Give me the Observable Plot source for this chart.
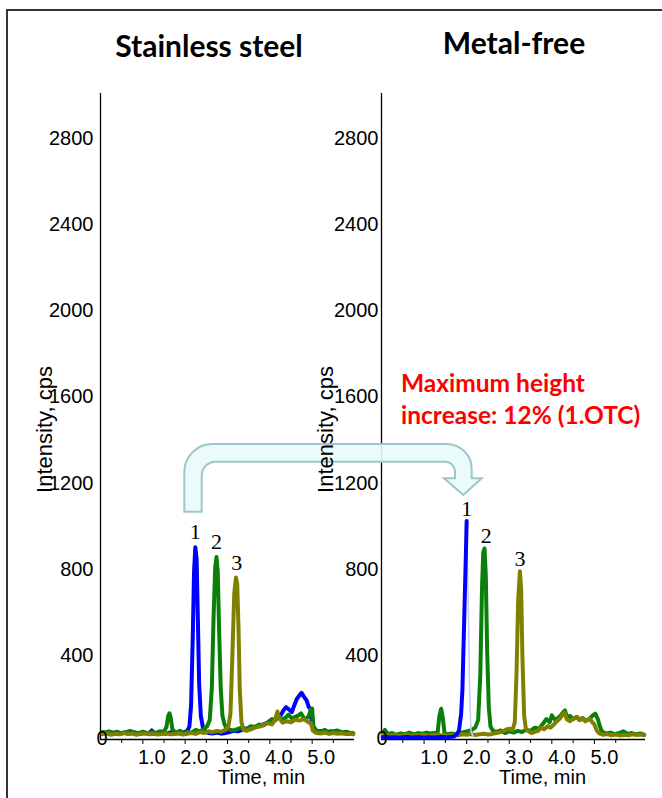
<!DOCTYPE html>
<html><head><meta charset="utf-8">
<script src="https://cdn.jsdelivr.net/npm/d3@7"></script>
<script src="https://cdn.jsdelivr.net/npm/@observablehq/plot@0.6"></script>
<style>
html,body{margin:0;padding:0;background:#fff;overflow:hidden;}
#wrap{position:relative;width:662px;height:798px;overflow:hidden;background:#fff;}
#frame{position:absolute;left:6px;top:9px;width:720px;height:900px;border:2px solid #333;box-sizing:border-box;}
.panel{position:absolute;left:0;top:0;}
.title{position:absolute;font-family:Lato,"Open Sans",sans-serif;font-weight:700;font-size:30px;line-height:30px;color:#000;white-space:nowrap;transform:translateX(-50%);}
#note{position:absolute;left:401px;top:367px;color:#ff0000;font-family:Lato,"Open Sans",sans-serif;font-weight:700;font-size:24.5px;line-height:31.6px;white-space:nowrap;}
</style>
</head><body>
<div id="wrap">
  <div id="frame"></div>
  <div id="left" class="panel"></div>
  <div id="right" class="panel"></div>
  <div id="t1" class="title" style="left:209px;top:30px"></div>
  <div id="t2" class="title" style="left:514px;top:27px"></div>
  <div id="note"></div>
</div>
<script>
// ---- texts ----
const panelTitles = ["Stainless steel", "Metal-free"];
const noteLines = ["Maximum height", "increase: 12% (1.OTC)"];
const yLabel = "Intensity, cps";
const xLabel = "Time, min";

// ---- ticks ----
const yTicks = [400, 800, 1200, 1600, 2000, 2400, 2800];
const xTicks = [1, 2, 3, 4, 5];
const xMinorTicks = [0.5, 1.5, 2.5, 3.5, 4.5, 5.5];

// ---- Stainless steel traces [time (min), intensity (cps)] ----
const leftBlue = [
 [0.05,30],[0.15,34],[0.25,28],[0.35,31],[0.45,26],[0.55,33],[0.65,29],[0.75,35],[0.85,30],[0.95,27],
 [1.05,32],[1.15,28],[1.21,42],[1.27,30],[1.35,29],[1.45,31],[1.55,27],[1.65,33],[1.75,30],[1.85,36],
 [1.95,32],[2.05,40],[2.10,60],[2.14,160],[2.18,480],[2.21,780],[2.24,893],[2.27,840],[2.30,560],[2.33,260],
 [2.37,110],[2.42,55],[2.48,38],[2.55,30],[2.65,28],[2.75,32],[2.85,27],[2.95,30],[3.05,35],[3.15,40],
 [3.25,38],[3.35,45],[3.45,50],[3.55,48],[3.65,58],[3.75,62],[3.85,70],[3.95,78],[4.05,85],[4.15,95],
 [4.25,110],[4.32,135],[4.38,150],[4.45,140],[4.52,127],[4.58,160],[4.64,189],[4.70,205],[4.75,217],[4.80,200],
 [4.87,181],[4.92,150],[4.96,144],[5.00,60],[5.05,42],[5.15,38],[5.25,40],[5.35,35],[5.45,38],[5.55,33],
 [5.65,36],[5.75,30],[5.85,32],[5.97,28]
];
const leftGreen = [
 [0.05,35],[0.12,30],[0.20,38],[0.30,32],[0.40,36],[0.50,28],[0.60,34],[0.70,40],[0.80,33],[0.90,30],
 [1.00,36],[1.10,29],[1.20,34],[1.30,31],[1.40,38],[1.50,35],[1.56,60],[1.60,110],[1.63,122],[1.66,100],
 [1.70,45],[1.78,32],[1.88,40],[1.95,30],[2.05,35],[2.15,32],[2.25,45],[2.35,38],[2.45,50],[2.52,62],
 [2.58,90],[2.63,240],[2.67,560],[2.71,800],[2.74,848],[2.77,780],[2.80,520],[2.84,240],[2.88,110],[2.93,70],
 [2.98,52],[3.05,45],[3.15,42],[3.25,50],[3.35,55],[3.45,48],[3.55,62],[3.65,58],[3.75,70],[3.85,65],
 [3.95,80],[4.05,95],[4.12,88],[4.20,110],[4.28,92],[4.36,100],[4.44,115],[4.52,98],[4.60,105],[4.68,112],
 [4.74,121],[4.80,100],[4.86,95],[4.92,110],[4.97,140],[5.00,143],[5.03,60],[5.10,42],[5.20,35],[5.30,45],
 [5.40,30],[5.50,38],[5.60,42],[5.70,33],[5.80,36],[5.90,30],[5.97,28]
];
const leftOlive = [
 [0.05,25],[0.15,28],[0.25,22],[0.35,26],[0.45,24],[0.55,30],[0.65,25],[0.75,27],[0.85,22],[0.95,26],
 [1.05,28],[1.15,24],[1.25,27],[1.35,23],[1.45,25],[1.55,29],[1.65,24],[1.75,26],[1.85,28],[1.95,23],
 [2.05,27],[2.15,30],[2.25,26],[2.35,35],[2.45,30],[2.55,38],[2.65,34],[2.75,40],[2.85,36],[2.95,45],
 [3.02,60],[3.07,120],[3.12,420],[3.16,680],[3.20,752],[3.23,720],[3.26,520],[3.29,230],[3.33,80],[3.38,45],
 [3.45,40],[3.55,48],[3.65,55],[3.75,60],[3.85,68],[3.95,75],[4.05,70],[4.12,90],[4.18,130],[4.22,100],
 [4.30,78],[4.40,85],[4.50,80],[4.60,92],[4.70,88],[4.80,95],[4.90,82],[4.97,75],[5.02,40],[5.10,30],
 [5.20,28],[5.30,32],[5.40,26],[5.50,30],[5.60,27],[5.70,29],[5.80,25],[5.90,27],[5.97,24]
];

// ---- Metal-free traces ----
const rightBlue = [
 [0.03,10],[0.10,12],[0.20,9],[0.30,11],[0.40,8],[0.50,10],[0.60,12],[0.70,9],[0.80,11],[0.90,10],
 [1.00,8],[1.10,11],[1.20,9],[1.30,10],[1.40,12],[1.50,10],[1.60,11],[1.70,14],[1.76,22],[1.82,42],
 [1.87,120],[1.90,228],[1.94,540],[1.98,848],[2.00,1015]
];
const rightBlueTail = [[2.00,1015],[2.04,600],[2.07,228],[2.10,40],[2.15,15]];
const rightGreen = [
 [0.03,30],[0.08,45],[0.15,25],[0.25,30],[0.35,22],[0.45,28],[0.55,25],[0.65,32],[0.75,24],[0.85,30],
 [0.95,26],[1.05,32],[1.15,28],[1.25,30],[1.32,35],[1.36,110],[1.40,143],[1.44,100],[1.48,30],[1.55,25],
 [1.65,28],[1.75,24],[1.85,30],[1.95,35],[2.05,40],[2.12,45],[2.20,55],[2.27,90],[2.32,300],[2.36,700],
 [2.39,870],[2.42,887],[2.45,760],[2.48,420],[2.52,150],[2.56,60],[2.62,40],[2.70,35],[2.80,42],[2.90,30],
 [3.00,38],[3.10,32],[3.20,40],[3.30,35],[3.40,45],[3.50,40],[3.60,55],[3.70,50],[3.80,75],[3.87,95],
 [3.95,80],[4.00,112],[4.08,90],[4.15,100],[4.22,115],[4.28,130],[4.31,135],[4.36,100],[4.42,110],[4.50,95],
 [4.58,105],[4.65,90],[4.72,100],[4.80,88],[4.88,95],[4.95,110],[5.02,120],[5.08,95],[5.13,60],[5.18,35],
 [5.28,28],[5.38,32],[5.48,25],[5.58,30],[5.68,38],[5.78,26],[5.88,30],[5.98,24],[6.08,28],[6.17,22]
];
const rightOlive = [
 [0.03,20],[0.10,22],[0.20,18],[0.30,21],[0.40,17],[0.50,20],[0.60,23],[0.70,18],[0.80,21],[0.90,19],
 [1.00,22],[1.10,18],[1.20,20],[1.30,23],[1.40,19],[1.50,21],[1.60,18],[1.70,22],[1.80,20],[1.90,24],
 [2.00,22],[2.10,25],[2.20,21],[2.30,24],[2.40,27],[2.50,23],[2.60,26],[2.70,30],[2.80,35],[2.88,42],
 [2.95,48],[3.02,50],[3.08,45],[3.13,80],[3.17,300],[3.21,650],[3.25,781],[3.28,700],[3.31,380],[3.35,110],
 [3.39,50],[3.45,38],[3.52,30],[3.60,35],[3.68,40],[3.75,55],[3.82,48],[3.90,62],[3.97,55],[4.05,70],
 [4.12,85],[4.20,100],[4.26,118],[4.30,125],[4.35,95],[4.42,85],[4.50,95],[4.56,100],[4.60,104],[4.66,90],
 [4.72,98],[4.78,85],[4.85,92],[4.90,95],[4.95,80],[5.00,70],[5.06,40],[5.12,28],[5.20,22],[5.30,25],
 [5.40,20],[5.50,23],[5.60,19],[5.70,22],[5.80,20],[5.90,24],[6.00,21],[6.10,23],[6.17,20]
];

// ---- peak labels [label, time, intensity] ----
const peaksLeft = [["1",2.24,893],["2",2.74,848],["3",3.22,752]];
const peaksRight = [["1",2.00,1015],["2",2.46,887],["3",3.25,781]];

const BLUE = "#0000ff", GREEN = "#0a800a", OLIVE = "#808000";
const FONT = "'Liberation Sans', Arial, sans-serif";

function line(data, color, w) {
  return Plot.line(data, {x: d => d[0], y: d => d[1], stroke: color, strokeWidth: w, strokeLinejoin: "round", strokeLinecap: "round"});
}

function commonMarks(opts) {
  return [
    Plot.axisX({ticks: xMinorTicks, tickSize: 4, tickFormat: () => "", label: null}),
    Plot.axisX({ticks: xTicks, tickSize: 5, tickFormat: () => "", label: null}),
    Plot.axisX({ticks: xTicks, tickSize: 0, tickPadding: 10, tickFormat: d3.format(".1f"), fontSize: 20, dx: opts.labelDx, label: null}),
    Plot.axisY({ticks: yTicks, tickSize: 0, tickPadding: opts.yPad, tickFormat: d => String(d), fontSize: 20, dy: 2, label: null}),
    Plot.text(["0"], {frameAnchor: "bottom-left", dx: opts.zeroDx, dy: 5, fontSize: 20}),
    Plot.text([yLabel], {frameAnchor: "left", textAnchor: "middle", rotate: -90, dx: -56, dy: 13, fontSize: 22}),
    Plot.text([xLabel], {frameAnchor: "bottom", textAnchor: "middle", dx: opts.xLabelDx, dy: 30, lineAnchor: "top", fontSize: 20}),
    Plot.text(opts.peaks, {x: d => d[1], y: d => d[2], text: d => d[0], dy: opts.peakDy, lineAnchor: "bottom", fontFamily: "'Liberation Serif', 'Times New Roman', serif", fontSize: 22})
  ];
}

const baseStyle = {background: "transparent", fontFamily: FONT, fontSize: "20px", overflow: "visible", color: "#000"};

const leftPlot = Plot.plot({
  width: 370, height: 798, marginLeft: 100, marginRight: 16, marginTop: 93, marginBottom: 59,
  style: baseStyle,
  x: {domain: [0, 6.0]},
  y: {domain: [0, 3000]},
  marks: [
    Plot.ruleX([0], {stroke: "#000", strokeWidth: 1.3}),
    Plot.ruleY([0], {stroke: "#000", strokeWidth: 1.3}),
    line(leftBlue, BLUE, 4),
    line(leftGreen, GREEN, 4),
    line(leftOlive, OLIVE, 4),
    ...commonMarks({labelDx: 9, yPad: 7, zeroDx: -4, xLabelDx: 34, peaks: peaksLeft, peakDy: -8})
  ]
});

const arrowPath = "M184.3,511.7 L184.3,472 A28,28 0 0 1 212.3,444 L446.7,444 A25,25 0 0 1 471.7,469 L471.7,478.3 L481.7,478.3 L463.3,495 L444,478.3 L455,478.3 L455,471.7 A10,10 0 0 0 445,461.7 L215.7,461.7 A14,14 0 0 0 201.7,475.7 L201.7,511.7 Z";
function arrowMark() {
  return d3.create("svg:path")
    .attr("d", arrowPath)
    .attr("fill", "#e9fbfb").attr("fill-opacity", 0.92)
    .attr("stroke", "#9ec6c6").attr("stroke-width", 2)
    .node();
}

const rightPlot = Plot.plot({
  width: 662, height: 798, marginLeft: 381, marginRight: 17, marginTop: 93, marginBottom: 59,
  style: baseStyle,
  x: {domain: [0, 6.2]},
  y: {domain: [0, 3000]},
  marks: [
    Plot.ruleX([0], {stroke: "#000", strokeWidth: 1.3}),
    Plot.ruleY([0], {stroke: "#000", strokeWidth: 1.3}),
    arrowMark,
    line(rightGreen, GREEN, 4),
    line(rightOlive, OLIVE, 4),
    line(rightBlueTail, "#c8c8ff", 1.5),
    line(rightBlue, BLUE, 4),
    ...commonMarks({labelDx: 10, yPad: 3, zeroDx: -5, xLabelDx: 29, peaks: peaksRight, peakDy: -5})
  ]
});

document.getElementById("left").appendChild(leftPlot);
document.getElementById("right").appendChild(rightPlot);
document.getElementById("t1").textContent = panelTitles[0];
document.getElementById("t2").textContent = panelTitles[1];
document.getElementById("note").innerHTML = noteLines.join("<br>");
</script>
</body></html>
